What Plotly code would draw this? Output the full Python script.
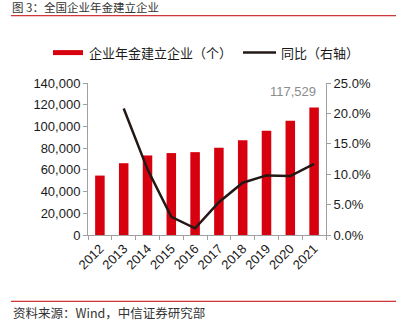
import plotly.graph_objects as go

years = ["2012", "2013", "2014", "2015", "2016", "2017", "2018", "2019", "2020", "2021"]
companies = [54737, 66120, 73261, 75454, 76298, 80429, 87368, 95963, 105227, 117529]
yoy = [None, 20.8, 10.8, 3.0, 1.1, 5.4, 8.6, 9.8, 9.7, 11.7]
left_ticks = [0, 20000, 40000, 60000, 80000, 100000, 120000, 140000]
right_ticks = [0, 5, 10, 15, 20, 25]

RED = "#D7000F"
DARK = "#231815"
GRAY = "#A0A0A0"
FONT = "Liberation Sans, Noto Sans CJK SC, sans-serif"
CJK = "Noto Sans CJK SC, Liberation Sans, sans-serif"

W, H = 396, 325
L, R, T, B = 88, 326, 82.5, 235

def px(x):
    return (x - L) / (R - L)

def py(y):
    return (B - y) / (B - T)

fig = go.Figure()
fig.add_trace(go.Bar(x=years, y=companies, marker_color=RED, width=0.4,
                     marker_line_width=0, showlegend=False, yaxis="y"))
fig.add_trace(go.Scatter(x=years, y=yoy, mode="lines", line=dict(color=DARK, width=2.5),
                         showlegend=False, yaxis="y2"))

shapes = [
    dict(type="line", xref="paper", yref="paper", x0=px(11), x1=px(396), y0=py(15), y1=py(15),
         line=dict(color="#C00000", width=1)),
    dict(type="line", xref="paper", yref="paper", x0=px(11), x1=px(396), y0=py(301.5), y1=py(301.5),
         line=dict(color="#C00000", width=1)),
    dict(type="rect", xref="paper", yref="paper", x0=px(53), x1=px(83), y0=py(49.5), y1=py(54.5),
         fillcolor=RED, line=dict(width=0)),
    dict(type="line", xref="paper", yref="paper", x0=px(243), x1=px(276), y0=py(52), y1=py(52),
         line=dict(color=DARK, width=2.5)),
]

annotations = [
    dict(text="图 3：全国企业年金建立企业", xref="paper", yref="paper", x=px(11), y=py(15.5),
         xanchor="left", yanchor="bottom", borderpad=0, showarrow=False,
         font=dict(family=CJK, size=11.5, color="#333333")),
    dict(text="企业年金建立企业（个）", xref="paper", yref="paper", x=px(87), y=py(52),
         xanchor="left", yanchor="middle", showarrow=False, font=dict(family=CJK, size=13, color="#1a1a1a")),
    dict(text="同比（右轴）", xref="paper", yref="paper", x=px(279), y=py(52),
         xanchor="left", yanchor="middle", showarrow=False, font=dict(family=CJK, size=13, color="#1a1a1a")),
    dict(text="资料来源：Wind，中信证券研究部", xref="paper", yref="paper", x=px(11), y=py(313),
         xanchor="left", yanchor="middle", showarrow=False, font=dict(family=CJK, size=12.5, color="#333333")),
    dict(text=f"{companies[-1]:,}", xref="paper", yref="paper", x=px(318), y=py(91),
         xanchor="right", yanchor="middle", showarrow=False,
         font=dict(family=FONT, size=13, color="#8c8c8c")),
]

fig.update_layout(
    width=W, height=H,
    margin=dict(l=L, r=W - R, t=T, b=H - B),
    paper_bgcolor="white", plot_bgcolor="white",
    font=dict(family=FONT, size=13, color="#1a1a1a"),
    bargap=0.6,
    xaxis=dict(type="category", tickangle=-45, showline=True, linecolor=GRAY, linewidth=1,
               ticks="outside", tickson="boundaries", ticklen=4, tickcolor=GRAY,
               showgrid=False, tickfont=dict(size=13), range=[-0.5, 9.5]),
    yaxis=dict(range=[0, 140000], tickvals=left_ticks, tickformat=",d", showline=True,
               linecolor=GRAY, ticks="outside", ticklen=4, tickcolor=GRAY, showgrid=False,
               zeroline=False, tickfont=dict(size=13)),
    yaxis2=dict(range=[0, 25], tickvals=right_ticks, ticktext=[f"{v:.1f}%" for v in right_ticks],
                overlaying="y", side="right", showline=True, linecolor=GRAY, ticks="outside",
                ticklen=4, tickcolor=GRAY, showgrid=False, zeroline=False, tickfont=dict(size=13)),
    shapes=shapes,
    annotations=annotations,
)

fig.write_html("out.html")
